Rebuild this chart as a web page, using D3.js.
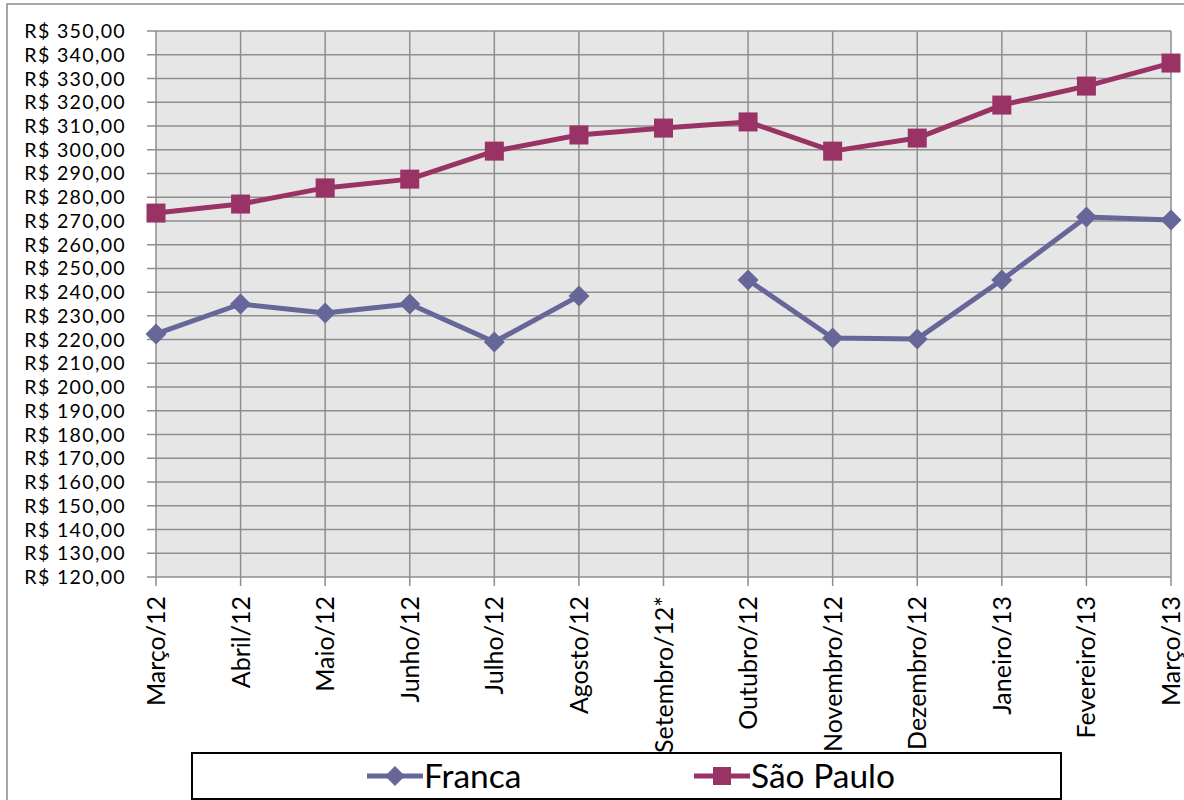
<!DOCTYPE html>
<html><head><meta charset="utf-8">
<script src="https://cdn.jsdelivr.net/npm/d3@7"></script>
<style>body{margin:0;background:#fff}svg{display:block}</style>
</head><body>
<svg id="c" width="1184" height="800"></svg>
<script>
const categories = ["Março/12","Abril/12","Maio/12","Junho/12","Julho/12","Agosto/12","Setembro/12*","Outubro/12","Novembro/12","Dezembro/12","Janeiro/13","Fevereiro/13","Março/13"];
const franca = [222.4,235.0,231.2,235.0,219.0,238.4,null,245.1,220.7,220.3,245.1,271.6,270.4];
const saoPaulo = [273.3,277.1,283.9,287.6,299.4,306.2,309.1,311.7,299.4,304.9,318.8,326.8,336.5];
const yTicks = d3.range(120,351,10);
const seriesNames = ["Franca","São Paulo"];

const svg = d3.select("#c");
const font = "Lato, 'Open Sans', sans-serif";
const L=156,R=1171,T=31,B=577;
const x = d3.scalePoint().domain(categories).range([L,R]);
const y = d3.scaleLinear().domain([120,350]).range([B,T]);

svg.append("path").attr("d","M7,800 V4 H1184").attr("fill","none").attr("stroke","#8a8a8a").attr("stroke-width",1.5);
svg.append("rect").attr("x",L).attr("y",T).attr("width",R-L).attr("height",B-T).attr("fill","#e6e6e6");

svg.append("g").selectAll("line").data(yTicks).join("line")
 .attr("x1",L-9).attr("x2",R).attr("y1",d=>y(d)).attr("y2",d=>y(d))
 .attr("stroke","#8e8e8e").attr("stroke-width",1.5);
svg.append("g").selectAll("line").data(categories).join("line")
 .attr("x1",d=>x(d)).attr("x2",d=>x(d)).attr("y1",T).attr("y2",B+9)
 .attr("stroke","#8e8e8e").attr("stroke-width",1.5);

const fmt = v => "R$ " + v.toFixed(2).replace(".",",");
svg.append("g").selectAll("text").data(yTicks).join("text")
 .attr("x",126).attr("y",d=>y(d)).attr("dy","0.36em").attr("text-anchor","end")
 .attr("font-family",font).attr("font-size",19.6).attr("letter-spacing",1.3).attr("fill","#000").text(fmt);

svg.append("g").selectAll("text").data(categories).join("text")
 .attr("transform",d=>`translate(${x(d)},596) rotate(-90)`)
 .attr("text-anchor","end").attr("dy","0.36em")
 .attr("font-family",font).attr("font-size",25).attr("fill","#000").text(d=>d);

const colors = ["#666699","#993366"];
const data = [franca, saoPaulo];
const diamond = r => `M0,${-r}L${r},0L0,${r}L${-r},0Z`;
const line = d3.line().defined(d=>d.v!=null).x(d=>x(d.c)).y(d=>y(d.v));
data.forEach((s,i)=>{
  const pts = s.map((v,j)=>({c:categories[j],v}));
  svg.append("path").datum(pts).attr("d",line).attr("fill","none")
    .attr("stroke",colors[i]).attr("stroke-width",5).attr("stroke-linejoin","round");
  const g = svg.append("g");
  pts.filter(d=>d.v!=null).forEach(d=>{
    if(i===0){
      g.append("path").attr("d",diamond(10.5))
       .attr("transform",`translate(${x(d.c)},${y(d.v)})`).attr("fill",colors[i]);
    } else {
      g.append("rect").attr("x",x(d.c)-9.5).attr("y",y(d.v)-9.5).attr("width",19).attr("height",19).attr("fill",colors[i]);
    }
  });
});

svg.append("rect").attr("x",192).attr("y",753).attr("width",869).attr("height",46)
 .attr("fill","#fff").attr("stroke","#000").attr("stroke-width",2);
const lg = [{x:367,name:seriesNames[0]},{x:694,name:seriesNames[1]}];
lg.forEach((d,i)=>{
  const cy=776;
  svg.append("line").attr("x1",d.x).attr("x2",d.x+56).attr("y1",cy).attr("y2",cy).attr("stroke",colors[i]).attr("stroke-width",5);
  if(i===0) svg.append("path").attr("d",diamond(10)).attr("transform",`translate(${d.x+28},${cy})`).attr("fill",colors[i]);
  else svg.append("rect").attr("x",d.x+19).attr("y",cy-9).attr("width",18).attr("height",18).attr("fill",colors[i]);
  svg.append("text").attr("x",d.x+57).attr("y",cy).attr("dy","0.36em").attr("font-family",font).attr("font-size",33.5).attr("fill","#000").text(d.name);
});
</script>
</body></html>
